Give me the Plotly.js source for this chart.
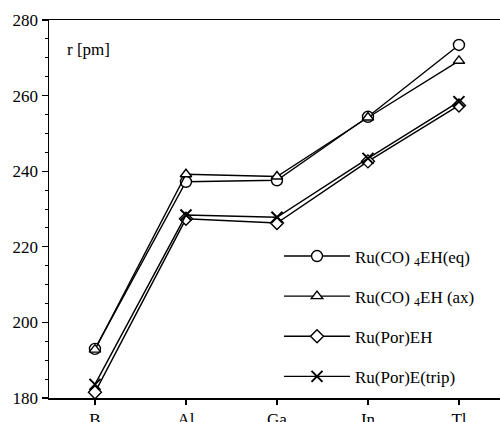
<!DOCTYPE html>
<html>
<head>
<meta charset="utf-8">
<script src="https://cdn.plot.ly/plotly-3.0.1.min.js"></script>
<style>html,body{margin:0;padding:0;background:#fff;overflow:hidden}#chart{width:500px;height:422px}</style>
</head>
<body>
<div id="chart"></div>
<script>
var elements = ["B", "Al", "Ga", "In", "Tl"];
var ruCO4EH_eq = [193.0, 237.2, 237.6, 254.4, 273.4];
var ruCO4EH_ax = [192.8, 239.2, 238.6, 254.2, 269.2];
var ruPorEH = [181.5, 227.4, 226.3, 242.6, 257.4];
var ruPorE_trip = [183.6, 228.4, 227.8, 243.4, 258.4];
var seriesNames = ["Ru(CO) <sub>4</sub>EH(eq)", "Ru(CO) <sub>4</sub>EH (ax)", "Ru(Por)EH", "Ru(Por)E(trip)"];

var FONT = "Liberation Serif";
function mk(y, name, symbol, group, size) {
  return {
    x: elements, y: y, name: name, type: "scatter", mode: "lines+markers",
    legendgroup: group,
    line: {color: "#000", width: 1.4},
    marker: {symbol: symbol, size: size, color: "#fff", line: {color: "#000", width: 1.4}}
  };
}
var data = [
  mk(ruCO4EH_eq, seriesNames[0], "circle", "a", 11),
  mk(ruCO4EH_ax, seriesNames[1], "triangle-up", "b", 10),
  mk(ruPorEH, seriesNames[2], "diamond", "c", 10),
  mk(ruPorE_trip, seriesNames[3], "x-thin", "d", 11)
];
data[3].marker.line.width = 2;
data[3].marker.color = "#000";

var layout = {
  width: 500, height: 422,
  margin: {l: 49, r: 0, t: 20, b: 24},
  paper_bgcolor: "#fff", plot_bgcolor: "#fff",
  font: {family: FONT, size: 17, color: "#000"},
  showlegend: true,
  legend: {
    x: 0.51, y: 0.422, xanchor: "left", yanchor: "top",
    traceorder: "grouped", tracegroupgap: 15,
    itemwidth: 66,
    bgcolor: "rgba(0,0,0,0)",
    font: {family: FONT, size: 17, color: "#000"}
  },
  xaxis: {
    type: "category",
    range: [-0.505, 4.451],
    showline: true, linecolor: "#000", linewidth: 1.5, mirror: true,
    ticks: "outside", ticklen: 5, tickwidth: 1.3, tickcolor: "#000",
    showgrid: false, zeroline: false,
    tickfont: {family: FONT, size: 17, color: "#000"}
  },
  yaxis: {
    range: [180, 280],
    dtick: 20, tick0: 180,
    showline: true, linecolor: "#000", linewidth: 1.5,
    ticks: "outside", ticklen: 6, tickwidth: 1.3, tickcolor: "#000",
    minor: {dtick: 5, ticks: "outside", ticklen: 3, tickwidth: 1, tickcolor: "#000"},
    showgrid: false, zeroline: false,
    tickfont: {family: FONT, size: 17, color: "#000"}
  },
  annotations: [{
    text: "r [pm]", xref: "paper", yref: "paper",
    x: 0.035, y: 0.921, xanchor: "left", yanchor: "middle",
    showarrow: false, font: {family: FONT, size: 17, color: "#000"}
  }]
};
Plotly.newPlot("chart", data, layout, {displayModeBar: false, staticPlot: true});
</script>
</body>
</html>
